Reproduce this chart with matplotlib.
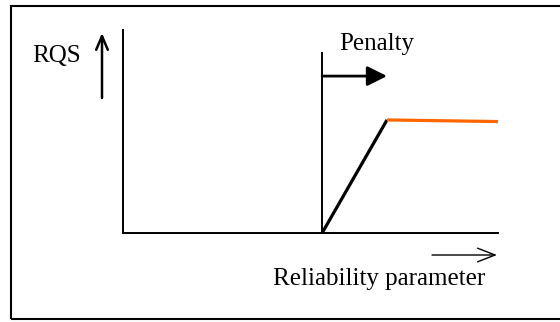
import matplotlib
matplotlib.use("Agg")
from matplotlib import pyplot as plt
from matplotlib.patches import Rectangle, FancyArrowPatch

# RQS curve, in arbitrary units (x: reliability parameter, y: RQS)
ramp_x = [53.1, 70.4]
ramp_y = [0.0, 55.7]
flat_x = [70.4, 100.0]
flat_y = [55.7, 54.9]

penalty_x = 53.1
penalty_top = 88.7
penalty_arrow_y = 77.3
penalty_arrow_end = 70.4

y_label = "RQS"
x_label = "Reliability parameter"
penalty_label = "Penalty"

plt.rcParams['font.family'] = ['Liberation Serif', 'DejaVu Serif']

W, H = 560, 322
fig = plt.figure(figsize=(W / 100, H / 100), dpi=100)

# outer frame (runs off the right edge)
fig.patches.append(Rectangle((11 / W, 1 - 319 / H), 0.99, (319 - 6) / H,
                             transform=fig.transFigure, fill=False,
                             edgecolor='black', linewidth=1.5))

ax = fig.add_axes([123 / W, 1 - 233 / H, (498 - 123) / W, (233 - 30) / H])
ax.set_xlim(0, 100)
ax.set_ylim(0, 100)
for s in ['top', 'right']:
    ax.spines[s].set_visible(False)
for s in ['left', 'bottom']:
    ax.spines[s].set_linewidth(1.4)
ax.set_xticks([])
ax.set_yticks([])
ax.patch.set_alpha(0)

ax.plot(ramp_x, ramp_y, color='black', linewidth=2.3, solid_capstyle='butt', clip_on=False)
ax.plot(flat_x, flat_y, color='#ff6600', linewidth=2.3, solid_capstyle='butt', clip_on=False)

ax.plot([penalty_x, penalty_x], [0, penalty_top], color='black', linewidth=1.4)
ax.annotate('', xy=(penalty_arrow_end, penalty_arrow_y), xytext=(penalty_x, penalty_arrow_y),
            arrowprops=dict(arrowstyle='-|>,head_length=1.2,head_width=0.6',
                            color='black', linewidth=2, shrinkA=0, shrinkB=0))
ax.text(penalty_x + 4.5, 93, penalty_label, fontsize=18, va='center', ha='left')

# axis labels with arrows
fig.text(32 / W, 1 - 56 / H, y_label, fontsize=18, va='center', ha='left')
fig.add_artist(FancyArrowPatch(
    (102 / W, 1 - 98 / H), (102 / W, 1 - 33 / H), transform=fig.transFigure,
    arrowstyle='->,head_length=0.7,head_width=0.3', color='black', linewidth=1.8,
    mutation_scale=14, shrinkA=0, shrinkB=0))

fig.text(273 / W, 1 - 279 / H, x_label, fontsize=18, va='center', ha='left')
fig.add_artist(FancyArrowPatch(
    (432 / W, 1 - 255 / H), (497 / W, 1 - 255 / H), transform=fig.transFigure,
    arrowstyle='->,head_length=0.9,head_width=0.35', color='black', linewidth=1.0,
    mutation_scale=14, shrinkA=0, shrinkB=0))

fig.savefig('out.png', dpi=100, facecolor='white')
